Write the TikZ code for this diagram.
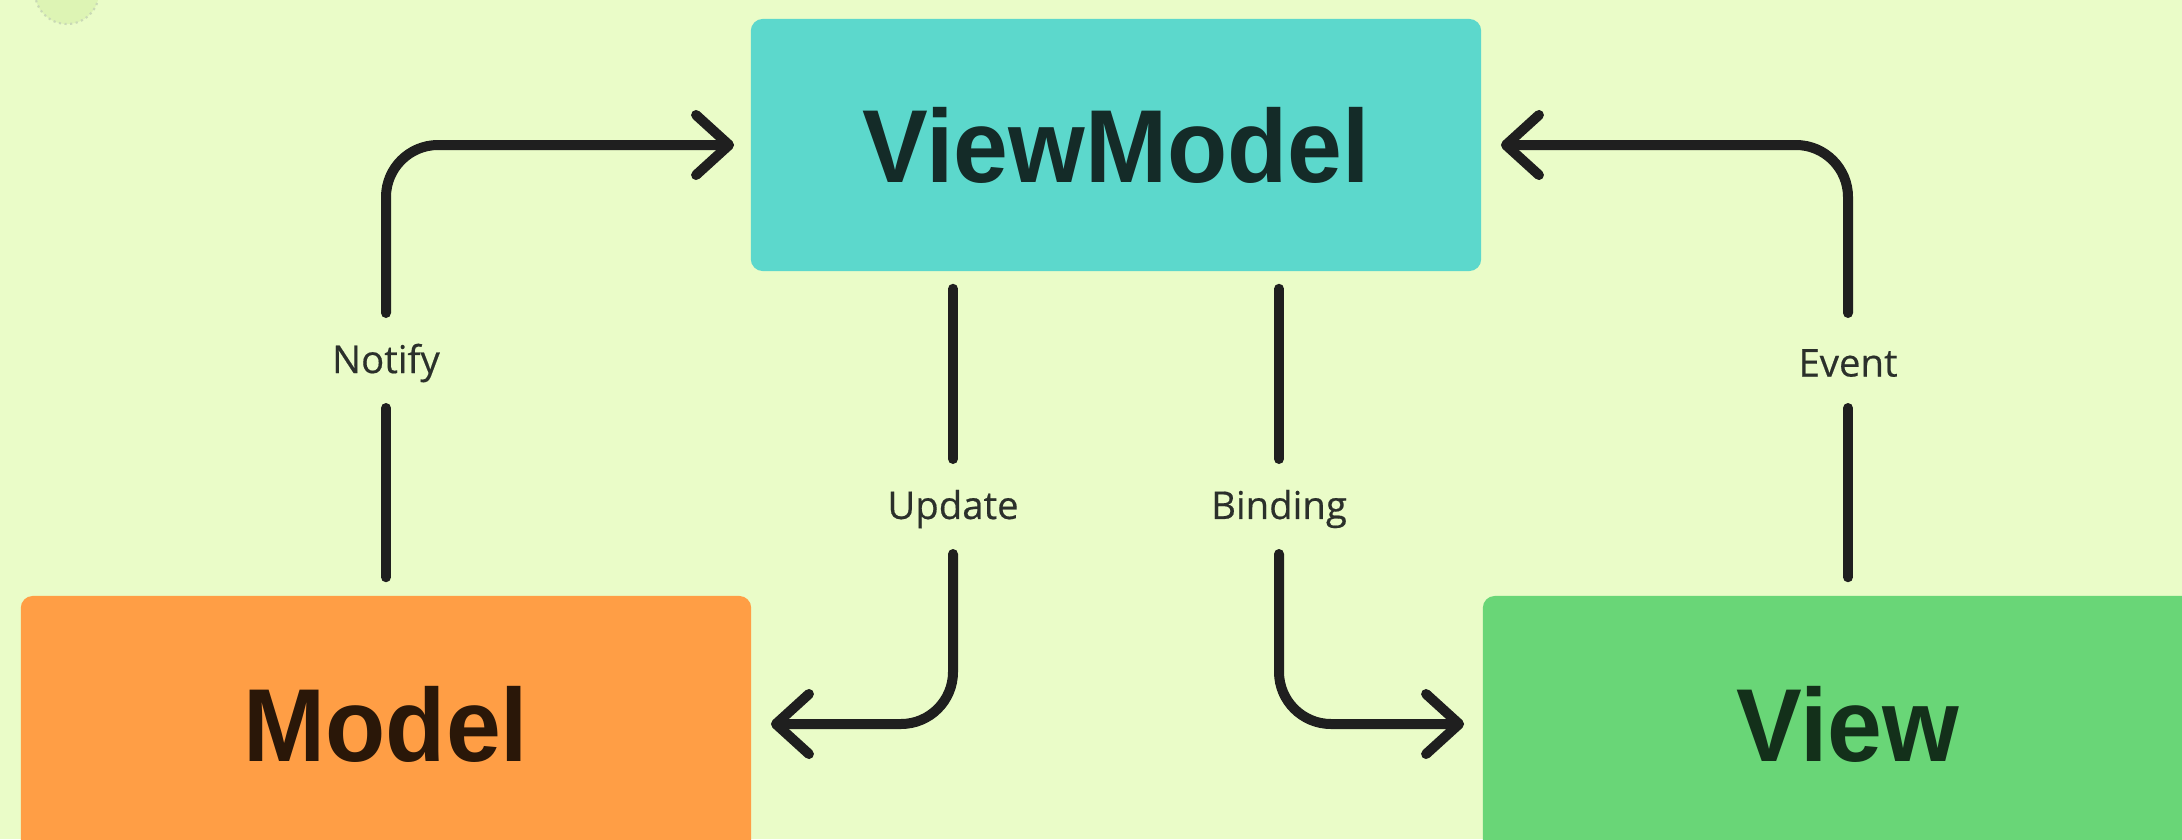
\documentclass[tikz,border=0pt]{standalone}
\usepackage{fontspec}
\setmainfont{Open Sans}
\newfontfamily\lblfont[FakeBold=0.45]{Open Sans}
\newfontfamily\boxfont[FakeStretch=0.95]{Liberation Sans}
\usetikzlibrary{arrows.meta,calc}

\definecolor{bgc}{HTML}{EAFCC8}
\definecolor{vmfill}{HTML}{5CD8CC}
\definecolor{modelfill}{HTML}{FF9E45}
\definecolor{viewfill}{HTML}{69D677}
\definecolor{vmtext}{HTML}{142B28}
\definecolor{modeltext}{HTML}{2A1708}
\definecolor{viewtext}{HTML}{13301A}
\definecolor{linec}{HTML}{1F1F1F}
\definecolor{lblc}{HTML}{2B302B}
\definecolor{blobfill}{HTML}{DDF4B4}
\definecolor{blobline}{HTML}{C9D9B6}

\begin{document}
\begin{tikzpicture}[x=0.01cm,y=-0.01cm,
  box/.style={rectangle, rounded corners=0.12cm, minimum width=7.3cm,
    inner sep=0pt, font=\boxfont\bfseries\fontsize{29.5}{31}\selectfont},
  conn/.style={line width=0.1cm, draw=linec, line cap=round, line join=round},
  arr/.style={-{Straight Barb[round, length=0.33cm, width=0.6cm]}},
  lbl/.style={font=\lblfont\fontsize{10.9}{13}\selectfont, text=lblc, inner sep=0pt}
]
% canvas
\useasboundingbox (0,0) rectangle (2182,839);
\clip (0,0) rectangle (2182,839);
\fill[bgc] (0,0) rectangle (2182,839);
\fill[blobfill, draw=blobline, line width=0.6pt, densely dotted] (67,-8) circle (32);

% components
\node[box, fill=vmfill, text=vmtext, minimum height=2.52cm] (vm) at (1116,145) {ViewModel};
\node[box, fill=modelfill, text=modeltext, minimum height=2.56cm] (model) at (386,724) {Model};
\node[box, fill=viewfill, text=viewtext, minimum height=2.56cm] (view) at (1848,724) {View};

% connector labels
\node[lbl] (notify)  at (386,363)  {Notify};
\node[lbl] (update)  at (953,509)  {Update};
\node[lbl] (binding) at (1279,509) {Binding};
\node[lbl] (event)   at (1848,363) {Event};

% Model -> ViewModel (Notify)
\draw[conn] ($(model.north)+(0,-18)$) -- ($(notify)+(0,45)$);
\draw[conn, arr, rounded corners=0.52cm] ($(notify)+(0,-50)$) |- ($(vm.west)+(-16,0)$);

% ViewModel -> Model (Update)
\draw[conn] ($(update |- vm.south)+(0,17)$) -- ($(update)+(0,-50)$);
\draw[conn, arr, rounded corners=0.52cm] ($(update)+(0,45)$) |- ($(model.east)+(19,0)$);

% ViewModel -> View (Binding)
\draw[conn] ($(binding |- vm.south)+(0,17)$) -- ($(binding)+(0,-50)$);
\draw[conn, arr, rounded corners=0.52cm] ($(binding)+(0,45)$) |- ($(view.west)+(-18,0)$);

% View -> ViewModel (Event)
\draw[conn] ($(view.north)+(0,-18)$) -- ($(event)+(0,45)$);
\draw[conn, arr, rounded corners=0.52cm] ($(event)+(0,-50)$) |- ($(vm.east)+(19,0)$);
\end{tikzpicture}
\end{document}
